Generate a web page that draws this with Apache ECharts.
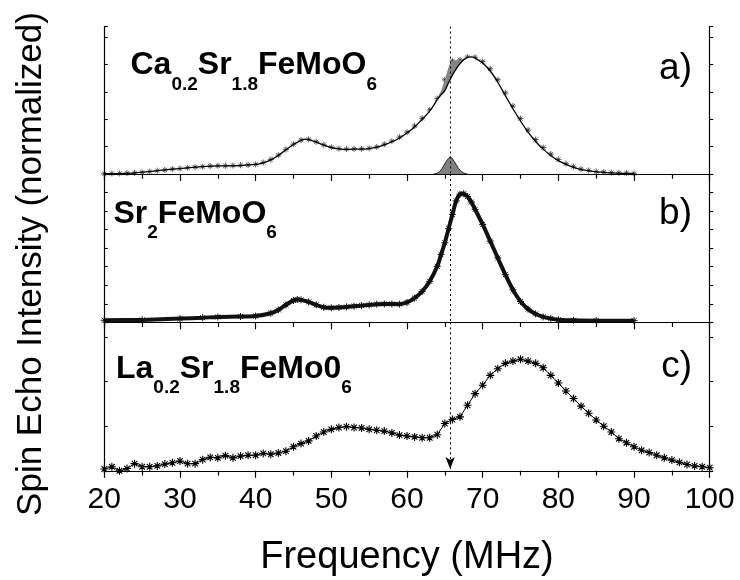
<!DOCTYPE html>
<html><head><meta charset="utf-8">
<script src="https://cdn.jsdelivr.net/npm/echarts@6/dist/echarts.min.js"></script>
<style>html,body{margin:0;padding:0;background:#fff}#c{width:740px;height:580px}</style>
</head><body><div id="c"></div>
<script>
// ---------- data ----------
const xTicks = [20, 30, 40, 50, 60, 70, 80, 90, 100];
const markerFreq = 65.7;

// panel a) Ca0.2Sr1.8FeMoO6 : fitted curve
const freqA = [20,22,24,26,28,30,32,34,36,38,40,41,42,43,44,45,46,46.5,47,48,49,50,51,52,53,54,55,56,57,58,59,60,61,62,63,63.5,64,64.5,65,65.5,65.7,66,66.5,67,67.5,68,68.5,69,70,71,72,73,74,75,76,77,78,79,80,81,82,83,84,85,86,87,88,89,90];
const fitA = [0.01,0.02,0.04,0.09,0.15,0.20,0.25,0.29,0.30,0.31,0.35,0.41,0.52,0.68,0.89,1.08,1.23,1.28,1.26,1.17,1.06,0.97,0.92,0.90,0.91,0.91,0.93,0.98,1.07,1.18,1.32,1.50,1.72,2.00,2.30,2.50,2.72,2.90,3.05,3.35,3.45,3.62,3.85,4.04,4.18,4.27,4.29,4.24,4.06,3.77,3.36,2.87,2.39,1.94,1.53,1.19,0.91,0.68,0.49,0.35,0.24,0.16,0.12,0.08,0.06,0.04,0.03,0.02,0.02];
// panel a) measured points
const measFreqA = [20,21,22,23,24,25,26,27,28,29,30,31,32,33,34,35,36,37,38,39,40,41,42,43,44,45,46,47,48,49,50,51,52,53,54,55,56,57,58,59,60,61,62,63,64,65,66,67,68,69,70,71,72,73,74,75,76,77,78,79,80,81,82,83,84,85,86,87,88,89,90];
const measA = [0.01,0.02,0.02,0.03,0.04,0.06,0.09,0.12,0.15,0.18,0.20,0.23,0.25,0.27,0.29,0.30,0.30,0.31,0.32,0.33,0.35,0.42,0.53,0.69,0.90,1.09,1.24,1.27,1.18,1.07,0.98,0.93,0.91,0.92,0.92,0.94,0.99,1.09,1.20,1.35,1.53,1.76,2.04,2.35,2.76,3.45,4.14,4.18,4.28,4.27,4.12,3.85,3.45,2.97,2.49,2.03,1.61,1.26,0.97,0.73,0.53,0.38,0.27,0.18,0.13,0.09,0.07,0.05,0.04,0.03,0.02];
// panel a) upper edge of the measured data around the extra line
const peakFreqA = [63.5,64,64.5,65,65.5,65.7,66,66.5,67,67.5,68,68.5];
const peakMeasA = [2.52,2.76,3.05,3.45,3.92,4.07,4.14,4.16,4.18,4.23,4.27,4.29];
// panel a) small extra gaussian line
const gaussFreqA = [63.5,64,64.5,65,65.5,65.7,66,66.5,67,67.5,68];
const gaussA = [0,0.03,0.15,0.38,0.58,0.62,0.56,0.35,0.14,0.04,0];

// panel b) Sr2FeMoO6
const freqB = [20,25,30,33,35,38,40,42,43,44,45,45.5,46,47,48,49,50,51,52,53,54,55,56,57,58,59,60,61,62,63,64,64.5,65,65.5,66,66.5,67,67.5,68,68.5,69,70,71,72,73,74,75,76,77,78,79,80,82,85,90];
const valB = [0.11,0.13,0.20,0.25,0.29,0.31,0.34,0.49,0.67,0.94,1.18,1.23,1.21,1.10,0.94,0.81,0.78,0.80,0.83,0.87,0.90,0.94,0.98,0.99,0.99,0.98,1.07,1.30,1.66,2.21,3.02,3.65,4.29,5.05,5.82,6.55,6.91,6.94,6.78,6.49,6.09,5.28,4.38,3.47,2.57,1.75,1.12,0.71,0.45,0.29,0.20,0.14,0.11,0.09,0.09];

// panel c) La0.2Sr1.8FeMo06
const freqC = [20,21,22,23,24,25,26,27,28,29,30,31,32,33,34,35,36,37,38,39,40,41,42,43,44,45,46,47,48,49,50,51,52,53,54,55,56,57,58,59,60,61,62,63,64,65,66,67,68,69,70,71,72,73,74,75,76,77,78,79,80,81,82,83,84,85,86,87,88,89,90,91,92,93,94,95,96,97,98,99,100,101];
const valC = [0.04,0.09,0.00,0.05,0.16,0.09,0.09,0.11,0.15,0.18,0.22,0.16,0.16,0.25,0.30,0.29,0.34,0.29,0.33,0.35,0.35,0.39,0.37,0.40,0.44,0.54,0.61,0.67,0.78,0.87,0.93,0.97,0.99,0.97,0.96,0.93,0.91,0.89,0.85,0.80,0.78,0.76,0.74,0.74,0.81,1.06,1.15,1.21,1.47,1.73,1.92,2.14,2.29,2.41,2.46,2.50,2.46,2.41,2.31,2.14,1.97,1.79,1.62,1.45,1.29,1.14,1.00,0.87,0.72,0.63,0.54,0.46,0.41,0.35,0.29,0.24,0.19,0.14,0.11,0.09,0.07,0.07];

const yMax = [5.40, 8.0, 3.33];
const panelTitles = [
  '{m|Ca}{s|0.2}{m|Sr}{s|1.8}{m|FeMoO}{s|6}',
  '{m|Sr}{s|2}{m|FeMoO}{s|6}',
  '{m|La}{s|0.2}{m|Sr}{s|1.8}{m|FeMo0}{s|6}'
];
const panelLetters = ['a)', 'b)', 'c)'];
const xTitle = 'Frequency (MHz)';
const yTitle = 'Spin Echo Intensity (normalized)';

// ---------- layout / style ----------
const FONT = "'Liberation Sans', Arial, Helvetica, sans-serif";
const STAR = 'path://M0,-10L0,10M-10,0L10,0M-7,-7L7,7M-7,7L7,-7';
const LEFT = 104.3, WIDTH = 605.4;
const grids = [
  {left: LEFT, top: 26.5, width: WIDTH, height: 147.5},
  {left: LEFT, top: 174, width: WIDTH, height: 148.3},
  {left: LEFT, top: 322.3, width: WIDTH, height: 148.5}
];
const zip = (xs, ys) => xs.map((x, i) => [x, ys[i]]);
const axLine = {show: true, lineStyle: {color: '#000', width: 1.2}};
const tickStyle = {color: '#000', width: 1.1};
const xMin = xTicks[0], xMax = xTicks[xTicks.length - 1], xInt = xTicks[1] - xTicks[0];

const xAxes = [], yAxes = [];
grids.forEach((g, i) => {
  xAxes.push({
    gridIndex: i, type: 'value', position: 'bottom', min: xMin, max: xMax, interval: xInt, z: 10,
    axisLine: axLine,
    axisTick: {show: true, inside: false, length: 7, lineStyle: tickStyle},
    minorTick: {show: true, splitNumber: 2, length: 4.5, lineStyle: tickStyle},
    axisLabel: {show: i === 2, color: '#000', fontSize: 30, fontFamily: FONT, margin: 14},
    splitLine: {show: false}, minorSplitLine: {show: false}
  });
  xAxes.push({
    gridIndex: i, type: 'value', position: 'top', min: xMin, max: xMax, interval: xInt, z: 10,
    axisLine: axLine,
    axisTick: {show: true, inside: true, length: 6, lineStyle: tickStyle},
    minorTick: {show: true, splitNumber: 2, length: 4.5, lineStyle: tickStyle},
    axisLabel: {show: false}, splitLine: {show: false}, minorSplitLine: {show: false}
  });
  ['left', 'right'].forEach(pos => {
    yAxes.push({
      gridIndex: i, type: 'value', position: pos, min: 0, max: yMax[i], interval: 1, z: 10,
      axisLine: axLine,
      axisTick: {show: true, inside: pos === 'left', length: 3.5, lineStyle: tickStyle},
      axisLabel: {show: false}, splitLine: {show: false}
    });
  });
});

const dotted = {color: '#000', type: [2, 3], width: 1};
function vMark(i, arrow) {
  return {
    silent: true, animation: false, z: 6,
    symbol: arrow ? ['none', 'arrow'] : ['none', 'none'],
    symbolSize: [7, 12],
    label: {show: false},
    lineStyle: dotted,
    emphasis: {disabled: true},
    data: [[{coord: [markerFreq, yMax[i]]}, {coord: [markerFreq, arrow ? 0.04 : 0]}]]
  };
}

// white cover uses the fitted curve over a slightly wider range than the shaded data edge
const coverFreqA = freqA.filter(f => f >= 63 && f <= 69);
const coverFitA = coverFreqA.map(f => fitA[freqA.indexOf(f)]);

const series = [
  // shaded extra intensity between data and fit
  {type: 'line', xAxisIndex: 0, yAxisIndex: 0, data: zip(peakFreqA, peakMeasA), symbol: 'none',
   lineStyle: {width: 0}, areaStyle: {color: '#858585', opacity: 1}, silent: true},
  {type: 'line', xAxisIndex: 0, yAxisIndex: 0, data: zip(coverFreqA, coverFitA), symbol: 'none',
   lineStyle: {width: 0}, areaStyle: {color: '#ffffff', opacity: 1}, silent: true},
  // small gaussian
  {type: 'line', xAxisIndex: 0, yAxisIndex: 0, data: zip(gaussFreqA, gaussA), symbol: 'none', smooth: 0.4,
   lineStyle: {color: '#000', width: 0.8}, areaStyle: {color: '#808080', opacity: 1}, silent: true},
  // fit
  {type: 'line', xAxisIndex: 0, yAxisIndex: 0, data: zip(freqA, fitA), symbol: 'none', smooth: 0.3,
   lineStyle: {color: '#000', width: 1.3}, silent: true, markLine: vMark(0, false)},
  // measured points a
  {type: 'scatter', xAxisIndex: 0, yAxisIndex: 0, data: zip(measFreqA, measA), symbol: STAR, symbolSize: 6,
   itemStyle: {color: '#222', borderColor: '#222', borderWidth: 0.9}, silent: true},
  // b
  {type: 'line', xAxisIndex: 2, yAxisIndex: 2, data: zip(freqB, valB), smooth: 0.25,
   symbol: STAR, symbolSize: 7, showSymbol: true, showAllSymbol: true,
   itemStyle: {color: '#111', borderColor: '#111', borderWidth: 1},
   lineStyle: {color: '#111', width: 4}, silent: true, markLine: vMark(1, false)},
  // c
  {type: 'line', xAxisIndex: 4, yAxisIndex: 4, data: zip(freqC, valC), smooth: false,
   symbol: STAR, symbolSize: 8, showSymbol: true, showAllSymbol: true,
   itemStyle: {color: '#000', borderColor: '#000', borderWidth: 1.1},
   lineStyle: {color: '#000', width: 1}, silent: true, markLine: vMark(2, true)}
];

const richStyle = {
  m: {fontSize: 32, fontWeight: 'bold', fontFamily: FONT, lineHeight: 34, color: '#000'},
  s: {fontSize: 19, fontWeight: 'bold', fontFamily: FONT, lineHeight: 19, padding: [38, 0, 0, 0], color: '#000'}
};
const titlePos = [[130.5, 37.1], [113.5, 185.4], [116, 340.4]];
const letterY = [68.8, 213.5, 366.8];
const graphics = [];
panelTitles.forEach((t, i) => {
  graphics.push({type: 'text', left: titlePos[i][0], top: titlePos[i][1], silent: true,
    style: {text: t, rich: richStyle, fill: '#000'}});
  graphics.push({type: 'text', x: 692, y: letterY[i], silent: true,
    style: {text: panelLetters[i], fontSize: 37, fontFamily: FONT, fill: '#000', textAlign: 'right', textVerticalAlign: 'middle'}});
});
graphics.push({type: 'text', x: 407, y: 557.5, silent: true,
  style: {text: xTitle, fontSize: 38, fontFamily: FONT, fill: '#000', textAlign: 'center', textVerticalAlign: 'middle'}});
graphics.push({type: 'text', x: 31, y: 264, rotation: Math.PI / 2, silent: true,
  style: {text: yTitle, fontSize: 35, fontFamily: FONT, fill: '#000', textAlign: 'center', textVerticalAlign: 'middle'}});

const chart = echarts.init(document.getElementById('c'), null, {renderer: 'canvas'});
chart.setOption({
  backgroundColor: '#fff',
  animation: false,
  grid: grids.map(g => Object.assign({outerBoundsMode: 'none', containLabel: false}, g)),
  xAxis: xAxes,
  yAxis: yAxes,
  series: series,
  graphic: graphics
});
</script></body></html>
